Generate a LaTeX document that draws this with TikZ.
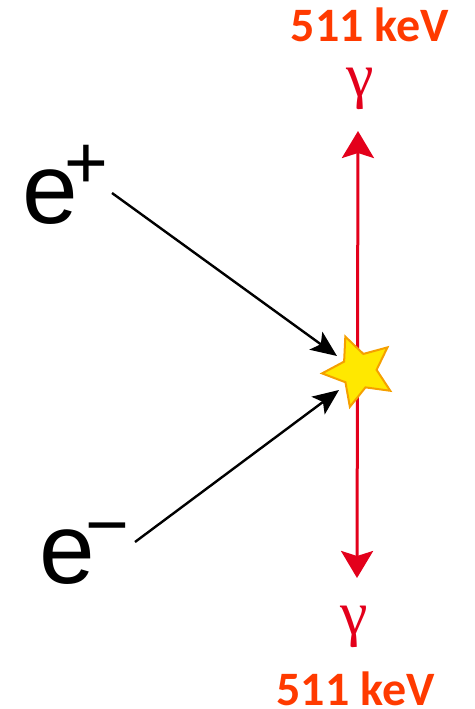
\documentclass[tikz,border=0pt]{standalone}
\usepackage{fontspec}
\setmainfont{Liberation Sans}
\newfontfamily\calib{Carlito}
\newfontfamily\serifg{Liberation Serif}
\usetikzlibrary{shapes.geometric,arrows.meta}
\definecolor{evred}{RGB}{255,58,0}
\definecolor{gred}{RGB}{227,0,27}
\definecolor{staryel}{RGB}{255,232,0}
\definecolor{starorg}{RGB}{245,160,0}
\tikzset{
  energy/.style={font=\calib\bfseries\fontsize{48}{48}\selectfont, text=evred, inner sep=0pt},
  gam/.style={font=\serifg\fontsize{62}{62}\selectfont, text=gred, inner sep=0pt},
  part/.style={inner sep=0pt, anchor=base west, text=black},
  photon/.style={draw=gred, line width=3pt, {Stealth[length=27pt,width=32pt,inset=5pt]}-{Stealth[length=27pt,width=32pt,inset=5pt]}},
  lepton/.style={draw=black, line width=2.4pt, -{Stealth[length=26pt,width=22pt,inset=6pt]}},
  flash/.style={star, star points=5, star point ratio=2.1, shape border rotate=21.7, minimum size=74pt, inner sep=0pt, fill=staryel, draw=starorg, line width=2pt}
}
\begin{document}
\begin{tikzpicture}[x=1pt,y=-1pt]
\useasboundingbox (0,0) rectangle (474,709);
\coordinate (gtop) at (358,131);
\coordinate (gbot) at (357,578);
\draw[photon] (gbot) -- (gtop);
\node[flash] (st) at (359,371) {};
\node[energy] (etop) at (370,25) {511 keV};
\node[energy] (ebot) at (355.5,689) {511 keV};
\node[gam] (gamtop) at (360,89) {γ};
\node[gam] (gambot) at (354,627) {γ};
\node[part] (ep) at (22,223) {\fontsize{100}{100}\selectfont e\kern-13pt\raisebox{34.6pt}{\fontsize{75}{75}\selectfont +}};
\node[part] (em) at (39,583) {\fontsize{100}{100}\selectfont e\kern-9pt\raisebox{33pt}{\fontsize{75}{75}\selectfont −}};
\coordinate (eps) at (112,193);
\coordinate (ept) at (337,356);
\coordinate (ems) at (135,542);
\coordinate (emt) at (339,390);
\draw[lepton] (eps) -- (ept);
\draw[lepton] (ems) -- (emt);
\end{tikzpicture}
\end{document}
